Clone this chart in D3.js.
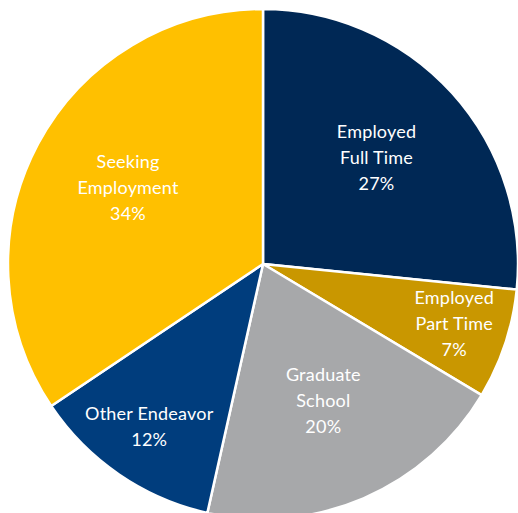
<!DOCTYPE html>
<html>
<head>
<meta charset="utf-8">
<script src="https://cdn.jsdelivr.net/npm/d3@7"></script>
<style>
  html, body { margin: 0; padding: 0; background: #fff; overflow: hidden; }
  svg { display: block; }
  .label text { font-family: "Lato", "Open Sans", sans-serif; font-weight: 400; font-size: 18px; letter-spacing: 0.2px; fill: #fff; }
</style>
</head>
<body>
<svg width="518" height="513"></svg>
<script>
const categories = [
  ["Employed", "Full Time"],
  ["Employed", "Part Time"],
  ["Graduate", "School"],
  ["Other Endeavor"],
  ["Seeking", "Employment"],
];
// shares; labels show them rounded
const values = [26.6, 7.0, 19.9, 12.1, 34.4];
const colors = ["#002855", "#C99700", "#A7A8AA", "#003D7D", "#FFC000"];

const svg = d3.select("svg");
const cx = 263;
const cy = 264;
const radius = 255;

const data = values.map((v, i) => ({ value: v, lines: categories[i], color: colors[i] }));

const pie = d3.pie().value((d) => d.value).sort(null);
const arcs = pie(data);

const arc = d3.arc().innerRadius(0).outerRadius(radius);

// small slices get their label pushed out towards the rim
function labelArc(d) {
  const r = d.data.value < 15 ? radius * 0.79 : radius * 0.6;
  return d3.arc().innerRadius(r).outerRadius(r).centroid(d);
}

const g = svg.append("g").attr("transform", `translate(${cx},${cy})`);

g.selectAll("path")
  .data(arcs)
  .join("path")
  .attr("d", arc)
  .attr("fill", (d) => d.data.color)
  .attr("stroke", "#fff")
  .attr("stroke-width", 2.5)
  .attr("stroke-linejoin", "round");

const lineH = 26;

const label = g
  .append("g")
  .attr("class", "label")
  .selectAll("text")
  .data(arcs)
  .join("text")
  .attr("text-anchor", "middle")
  .attr("transform", (d) => {
    const [x, y] = labelArc(d);
    return `translate(${x},${y - 4})`;
  });

label.each(function (d) {
  const lines = d.data.lines.concat([Math.round(d.data.value) + "%"]);
  const t = d3.select(this);
  const start = -((lines.length - 1) * lineH) / 2;
  lines.forEach((txt, i) => {
    t.append("tspan")
      .attr("x", 0)
      .attr("y", start + i * lineH)
      .attr("dy", "0.35em")
      .text(txt);
  });
});
</script>
</body>
</html>
